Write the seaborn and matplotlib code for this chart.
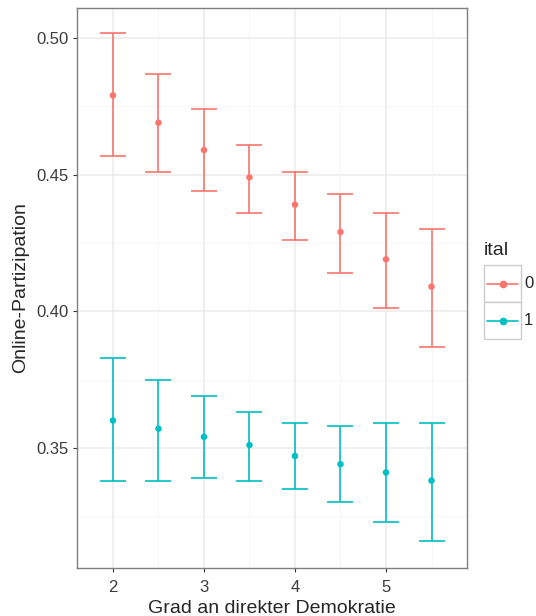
import numpy as np
import pandas as pd
import matplotlib.pyplot as plt
import seaborn as sns
from matplotlib.lines import Line2D
from matplotlib.patches import Rectangle

# Grad an direkter Demokratie
grad = [2.0, 2.5, 3.0, 3.5, 4.0, 4.5, 5.0, 5.5]

# ital = 0
fit_0 = [0.479, 0.469, 0.459, 0.449, 0.439, 0.429, 0.419, 0.409]
lo_0 = [0.457, 0.451, 0.444, 0.436, 0.426, 0.414, 0.401, 0.387]
hi_0 = [0.502, 0.487, 0.474, 0.461, 0.451, 0.443, 0.436, 0.430]

# ital = 1
fit_1 = [0.360, 0.357, 0.354, 0.351, 0.347, 0.344, 0.341, 0.338]
lo_1 = [0.338, 0.338, 0.339, 0.338, 0.335, 0.330, 0.323, 0.316]
hi_1 = [0.383, 0.375, 0.369, 0.363, 0.359, 0.358, 0.359, 0.359]

ital_levels = ["0", "1"]
colors = {"0": "#F8766D", "1": "#00BFC4"}

df = pd.concat([
    pd.DataFrame({"grad": grad, "fit": fit_0, "lo": lo_0, "hi": hi_0, "ital": "0"}),
    pd.DataFrame({"grad": grad, "fit": fit_1, "lo": lo_1, "hi": hi_1, "ital": "1"}),
], ignore_index=True)

sns.set_style("white")
plt.rcParams["font.family"] = ["Liberation Sans", "DejaVu Sans"]

W, H = 536, 616
fig = plt.figure(figsize=(W / 100, H / 100), dpi=100)
ax = fig.add_axes([77 / W, 1 - 568 / H, 390 / W, 560 / H])

# grid like theme_bw
for v in [0.35, 0.40, 0.45, 0.50]:
    ax.axhline(v, color="#EBEBEB", lw=1.1, zorder=0)
for v in [0.325, 0.375, 0.425, 0.475]:
    ax.axhline(v, color="#F5F5F5", lw=0.6, zorder=0)
for v in [2, 3, 4, 5]:
    ax.axvline(v, color="#EBEBEB", lw=1.1, zorder=0)
for v in [2.5, 3.5, 4.5, 5.5]:
    ax.axvline(v, color="#F5F5F5", lw=0.6, zorder=0)

for lev in ital_levels:
    d = df[df["ital"] == lev]
    ax.errorbar(d["grad"], d["fit"], yerr=[d["fit"] - d["lo"], d["hi"] - d["fit"]],
                fmt="none", ecolor=colors[lev], elinewidth=1.2, capsize=9.4,
                capthick=1.2, zorder=2)

sns.scatterplot(data=df, x="grad", y="fit", hue="ital", palette=colors,
                s=22, edgecolor="none", legend=False, ax=ax, zorder=3)

ax.set_xlim(1.605, 5.89)
ax.set_ylim(0.306, 0.511)
ax.set_xticks([2, 3, 4, 5])
ax.set_xticklabels(["2", "3", "4", "5"])
ax.set_yticks([0.35, 0.40, 0.45, 0.50])
ax.set_yticklabels(["0.35", "0.40", "0.45", "0.50"])
ax.tick_params(axis="both", length=3, width=0.8, color="#333333",
               labelsize=12, labelcolor="#3C3C3C", pad=3, direction="out",
               bottom=True, left=True)
ax.tick_params(axis="x", pad=6)
for sp in ax.spines.values():
    sp.set_color("#7F7F7F")
    sp.set_linewidth(1.0)

ax.set_xlabel("Grad an direkter Demokratie", fontsize=14, labelpad=3)
ax.set_ylabel("Online-Partizipation", fontsize=14, labelpad=5)

# legend (ggplot style: title + boxed keys)
def fx(px):
    return px / W


def fy(py):
    return 1 - py / H


fig.text(fx(484), fy(250), "ital", fontsize=14, ha="left", va="center")
key_top, key_h = 265, 37
for i, lev in enumerate(ital_levels):
    top = key_top + i * key_h
    fig.add_artist(Rectangle((fx(484), fy(top + key_h)), 37 / W, key_h / H,
                             transform=fig.transFigure, facecolor="white",
                             edgecolor="#CCCCCC", lw=1.0))
    cy = top + key_h / 2
    fig.add_artist(Line2D([fx(487), fx(518)], [fy(cy), fy(cy)],
                          transform=fig.transFigure, color=colors[lev], lw=1.2))
    fig.add_artist(Line2D([fx(502.5)], [fy(cy)], transform=fig.transFigure,
                          color=colors[lev], marker="o", markersize=4.5, lw=0))
    fig.text(fx(524), fy(cy), lev, fontsize=12, ha="left", va="center")

plt.savefig("out.png", dpi=100)
